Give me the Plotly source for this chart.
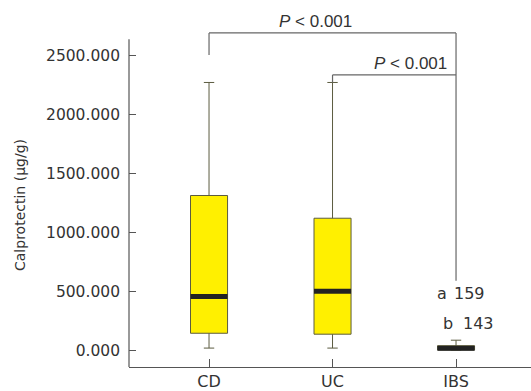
import plotly.graph_objects as go

categories = ["CD", "UC", "IBS"]
q1 = [143, 135, 0]
median = [455, 500, 15]
q3 = [1313, 1120, 37]
lowerfence = [17, 17, 0]
upperfence = [2273, 2273, 84]

y_ticks = [0, 500, 1000, 1500, 2000, 2500]
counts_a = ["a", "159"]
counts_b = ["b", "143"]
p_label = "<i>P</i> &lt; 0.001"

bracket_top = 2694
bracket_mid = 2337
bracket_right_bottom = 589

AX = "#555555"
TXT = "#333333"
FONT = "DejaVu Sans"

fig = go.Figure()
fig.add_trace(go.Box(
    x=categories, q1=q1, median=median, q3=q3,
    lowerfence=lowerfence, upperfence=upperfence,
    width=0.3, whiskerwidth=0.28, boxpoints=False,
    fillcolor="#FFF000", line=dict(color="#5c5c40", width=1),
    hoverinfo="skip", showlegend=False,
))

shapes = []
for i, m in enumerate(median):
    shapes.append(dict(type="line", xref="x", yref="y", x0=i - 0.15, x1=i + 0.15,
                       y0=m, y1=m, line=dict(color="#222222", width=5)))

def seg(x0, y0, x1, y1):
    return dict(type="line", xref="x", yref="y", x0=x0, y0=y0, x1=x1, y1=y1,
                line=dict(color="#666666", width=1.2))

# bracket CD vs IBS
shapes.append(seg(0, 2506, 0, bracket_top))
shapes.append(seg(0, bracket_top, 2, bracket_top))
shapes.append(seg(2, bracket_top, 2, bracket_right_bottom))
# bracket UC vs IBS
shapes.append(seg(1, upperfence[1], 1, bracket_mid))
shapes.append(seg(1, bracket_mid, 2, bracket_mid))

# y axis line
shapes.append(dict(type="line", xref="paper", yref="y", x0=0, x1=0, y0=-143.6, y1=2641,
                   line=dict(color=AX, width=1.2)))

annotations = [
    dict(x=0.866, y=bracket_top, xref="x", yref="y", text=p_label, showarrow=False,
         yanchor="bottom", yshift=0, font=dict(family="Liberation Sans", size=17, color=TXT)),
    dict(x=1.63, y=bracket_mid, xref="x", yref="y", text=p_label, showarrow=False,
         yanchor="bottom", yshift=0, font=dict(family="Liberation Sans", size=17, color=TXT)),
    dict(x=1.883, y=479, xref="x", yref="y", text=counts_a[0], showarrow=False,
         font=dict(family=FONT, size=16, color=TXT)),
    dict(x=2.113, y=479, xref="x", yref="y", text=counts_a[1], showarrow=False,
         font=dict(family=FONT, size=16, color=TXT)),
    dict(x=1.931, y=225, xref="x", yref="y", text=counts_b[0], showarrow=False,
         font=dict(family=FONT, size=16, color=TXT)),
    dict(x=2.178, y=225, xref="x", yref="y", text=counts_b[1], showarrow=False,
         font=dict(family=FONT, size=16, color=TXT)),
    dict(x=-0.271, y=0.454, xref="paper", yref="paper", text="Calprotectin (µg/g)",
         textangle=-90, showarrow=False, xanchor="center", yanchor="middle",
         font=dict(family=FONT, size=14, color=TXT)),
]

fig.update_layout(
    width=531, height=391,
    margin=dict(l=129, r=0, t=10, b=22),
    paper_bgcolor="white", plot_bgcolor="white",
    shapes=shapes, annotations=annotations,
    font=dict(family=FONT, color=TXT),
    xaxis=dict(type="category", range=[-0.648, 2.607], showline=True, linecolor=AX,
               linewidth=1.2, ticks="inside", ticklen=8, tickcolor=AX, showgrid=False,
               zeroline=False, tickfont=dict(family=FONT, size=16, color=TXT)),
    yaxis=dict(range=[-143.6, 2888.5], showline=False, ticks="inside", ticklen=7,
               tickcolor=AX, tickvals=y_ticks, tickformat=".3f", showgrid=False,
               zeroline=False, ticklabelstandoff=8,
               tickfont=dict(family=FONT, size=15.5, color=TXT)),
)

fig.write_html("out.html", config={"displayModeBar": False},
               post_script="document.body.style.margin='0';document.body.style.overflow='hidden';")
